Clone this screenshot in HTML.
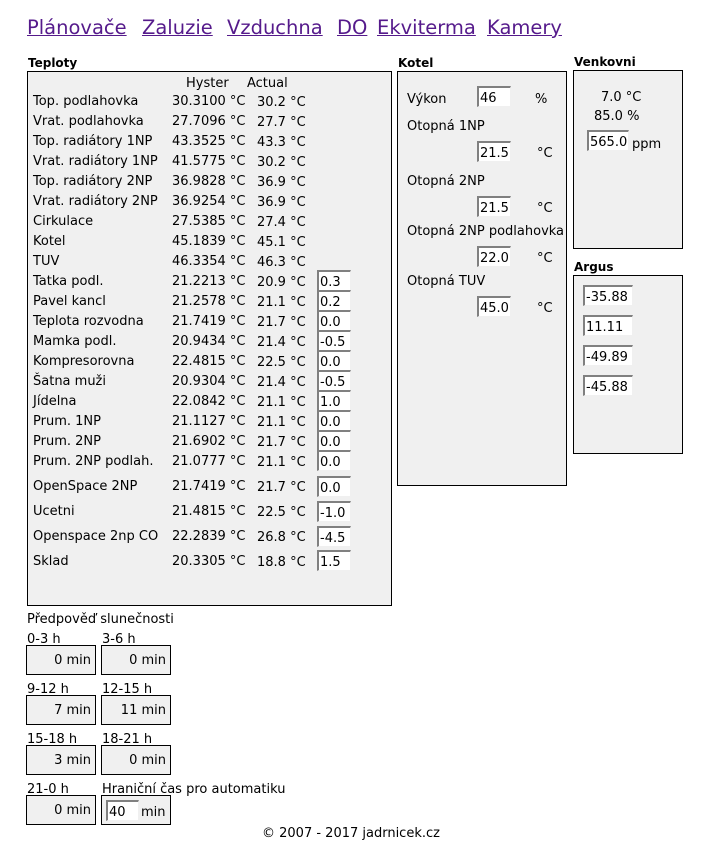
<!DOCTYPE html>
<html><head><meta charset="utf-8"><style>
*{margin:0;padding:0;box-sizing:border-box}
body{width:707px;height:861px;background:#fff;font-family:"DejaVu Sans","Liberation Sans",sans-serif;font-size:13px;color:#000;position:relative;overflow:hidden}
.a{position:absolute;white-space:nowrap;line-height:14px;margin-top:1px}
.t{position:absolute;font-weight:bold;font-size:12px;line-height:14px;margin-top:1px}
.box{position:absolute;background:#f0f0f0;border:1px solid #000}
.in{position:absolute;background:#fff;border-top:2px solid #808080;border-left:2px solid #808080;border-right:1px solid #f0f0f0;border-bottom:1px solid #f0f0f0;height:21px;padding:4px 0 0 1px;line-height:14px;font-size:13px}
.lk{position:absolute;top:16px;font-size:19.5px;color:#551a8b;text-decoration:underline;line-height:24px;white-space:nowrap}
.sb{position:absolute;width:70px;height:30px;background:#f0f0f0;border:1px solid #000;text-align:right;padding:8px 4px 0 0;font-size:13px;line-height:14px}
</style></head><body>
<span class="lk" style="left:27px">Plánovače</span>
<span class="lk" style="left:142px">Zaluzie</span>
<span class="lk" style="left:227px">Vzduchna</span>
<span class="lk" style="left:337px">DO</span>
<span class="lk" style="left:377px">Ekviterma</span>
<span class="lk" style="left:487px">Kamery</span>

<div class="t" style="left:28px;top:55px">Teploty</div>
<div class="box" style="left:27px;top:71px;width:365px;height:535px"></div>
<div class="a" style="left:186px;top:76px">Hyster</div>
<div class="a" style="left:247px;top:76px">Actual</div>

<div class="t" style="left:398px;top:55px">Kotel</div>
<div class="box" style="left:397px;top:71px;width:170px;height:415px"></div>
<div class="a" style="left:407px;top:92px">Výkon</div>
<div class="in" style="left:477px;top:86px;width:34px">46</div>
<div class="a" style="left:535px;top:92px">%</div>
<div class="a" style="left:407px;top:119px">Otopná 1NP</div>
<div class="in" style="left:477px;top:141px;width:34px">21.5</div>
<div class="a" style="left:537px;top:146px">°C</div>
<div class="a" style="left:407px;top:174px">Otopná 2NP</div>
<div class="in" style="left:477px;top:196px;width:34px">21.5</div>
<div class="a" style="left:537px;top:201px">°C</div>
<div class="a" style="left:407px;top:224px">Otopná 2NP podlahovka</div>
<div class="in" style="left:477px;top:246px;width:34px">22.0</div>
<div class="a" style="left:537px;top:251px">°C</div>
<div class="a" style="left:407px;top:274px">Otopná TUV</div>
<div class="in" style="left:477px;top:296px;width:34px">45.0</div>
<div class="a" style="left:537px;top:301px">°C</div>

<div class="t" style="left:574px;top:54px">Venkovni</div>
<div class="box" style="left:573px;top:70px;width:110px;height:179px"></div>
<div class="a" style="left:601px;top:90px">7.0 °C</div>
<div class="a" style="left:594px;top:109px">85.0 %</div>
<div class="in" style="left:587px;top:130px;width:42px">565.0</div>
<div class="a" style="left:632px;top:137px">ppm</div>

<div class="t" style="left:574px;top:259px">Argus</div>
<div class="box" style="left:573px;top:275px;width:110px;height:179px"></div>
<div class="in" style="left:583px;top:285px;width:50px">-35.88</div>
<div class="in" style="left:583px;top:315px;width:50px">11.11</div>
<div class="in" style="left:583px;top:345px;width:50px">-49.89</div>
<div class="in" style="left:583px;top:375px;width:50px">-45.88</div>

<div class="a" style="left:27px;top:612px">Předpověď slunečnosti</div>
<div class="a" style="left:27px;top:632px">0-3 h</div><div class="a" style="left:102px;top:632px">3-6 h</div>
<div class="sb" style="left:26px;top:645px">0 min</div><div class="sb" style="left:101px;top:645px">0 min</div>
<div class="a" style="left:27px;top:682px">9-12 h</div><div class="a" style="left:102px;top:682px">12-15 h</div>
<div class="sb" style="left:26px;top:695px">7 min</div><div class="sb" style="left:101px;top:695px">11 min</div>
<div class="a" style="left:27px;top:732px">15-18 h</div><div class="a" style="left:102px;top:732px">18-21 h</div>
<div class="sb" style="left:26px;top:745px">3 min</div><div class="sb" style="left:101px;top:745px">0 min</div>
<div class="a" style="left:27px;top:782px">21-0 h</div><div class="a" style="left:102px;top:782px">Hraniční čas pro automatiku</div>
<div class="sb" style="left:26px;top:795px">0 min</div><div class="sb" style="left:101px;top:795px"></div>
<div class="in" style="left:106px;top:800px;width:33px">40</div>
<div class="a" style="left:141px;top:805px">min</div>
<div class="a" style="left:262px;top:826px">© 2007 - 2017 jadrnicek.cz</div>

<div class="a" style="left:33px;top:94px">Top. podlahovka</div><div class="a" style="left:172px;top:94px">30.3100 °C</div><div class="a" style="left:257px;top:95px">30.2 °C</div>
<div class="a" style="left:33px;top:114px">Vrat. podlahovka</div><div class="a" style="left:172px;top:114px">27.7096 °C</div><div class="a" style="left:257px;top:115px">27.7 °C</div>
<div class="a" style="left:33px;top:134px">Top. radiátory 1NP</div><div class="a" style="left:172px;top:134px">43.3525 °C</div><div class="a" style="left:257px;top:135px">43.3 °C</div>
<div class="a" style="left:33px;top:154px">Vrat. radiátory 1NP</div><div class="a" style="left:172px;top:154px">41.5775 °C</div><div class="a" style="left:257px;top:155px">30.2 °C</div>
<div class="a" style="left:33px;top:174px">Top. radiátory 2NP</div><div class="a" style="left:172px;top:174px">36.9828 °C</div><div class="a" style="left:257px;top:175px">36.9 °C</div>
<div class="a" style="left:33px;top:194px">Vrat. radiátory 2NP</div><div class="a" style="left:172px;top:194px">36.9254 °C</div><div class="a" style="left:257px;top:195px">36.9 °C</div>
<div class="a" style="left:33px;top:214px">Cirkulace</div><div class="a" style="left:172px;top:214px">27.5385 °C</div><div class="a" style="left:257px;top:215px">27.4 °C</div>
<div class="a" style="left:33px;top:234px">Kotel</div><div class="a" style="left:172px;top:234px">45.1839 °C</div><div class="a" style="left:257px;top:235px">45.1 °C</div>
<div class="a" style="left:33px;top:254px">TUV</div><div class="a" style="left:172px;top:254px">46.3354 °C</div><div class="a" style="left:257px;top:255px">46.3 °C</div>

<div class="a" style="left:33px;top:274px">Tatka podl.</div><div class="a" style="left:172px;top:274px">21.2213 °C</div><div class="a" style="left:257px;top:275px">20.9 °C</div><div class="in" style="left:317px;top:270px;width:34px">0.3</div>
<div class="a" style="left:33px;top:294px">Pavel kancl</div><div class="a" style="left:172px;top:294px">21.2578 °C</div><div class="a" style="left:257px;top:295px">21.1 °C</div><div class="in" style="left:317px;top:290px;width:34px">0.2</div>
<div class="a" style="left:33px;top:314px">Teplota rozvodna</div><div class="a" style="left:172px;top:314px">21.7419 °C</div><div class="a" style="left:257px;top:315px">21.7 °C</div><div class="in" style="left:317px;top:310px;width:34px">0.0</div>
<div class="a" style="left:33px;top:334px">Mamka podl.</div><div class="a" style="left:172px;top:334px">20.9434 °C</div><div class="a" style="left:257px;top:335px">21.4 °C</div><div class="in" style="left:317px;top:330px;width:34px">-0.5</div>
<div class="a" style="left:33px;top:354px">Kompresorovna</div><div class="a" style="left:172px;top:354px">22.4815 °C</div><div class="a" style="left:257px;top:355px">22.5 °C</div><div class="in" style="left:317px;top:350px;width:34px">0.0</div>
<div class="a" style="left:33px;top:374px">Šatna muži</div><div class="a" style="left:172px;top:374px">20.9304 °C</div><div class="a" style="left:257px;top:375px">21.4 °C</div><div class="in" style="left:317px;top:370px;width:34px">-0.5</div>
<div class="a" style="left:33px;top:394px">Jídelna</div><div class="a" style="left:172px;top:394px">22.0842 °C</div><div class="a" style="left:257px;top:395px">21.1 °C</div><div class="in" style="left:317px;top:390px;width:34px">1.0</div>
<div class="a" style="left:33px;top:414px">Prum. 1NP</div><div class="a" style="left:172px;top:414px">21.1127 °C</div><div class="a" style="left:257px;top:415px">21.1 °C</div><div class="in" style="left:317px;top:410px;width:34px">0.0</div>
<div class="a" style="left:33px;top:434px">Prum. 2NP</div><div class="a" style="left:172px;top:434px">21.6902 °C</div><div class="a" style="left:257px;top:435px">21.7 °C</div><div class="in" style="left:317px;top:430px;width:34px">0.0</div>
<div class="a" style="left:33px;top:454px">Prum. 2NP podlah.</div><div class="a" style="left:172px;top:454px">21.0777 °C</div><div class="a" style="left:257px;top:455px">21.1 °C</div><div class="in" style="left:317px;top:450px;width:34px">0.0</div>
<div class="a" style="left:33px;top:479px">OpenSpace 2NP</div><div class="a" style="left:172px;top:479px">21.7419 °C</div><div class="a" style="left:257px;top:480px">21.7 °C</div><div class="in" style="left:317px;top:476px;width:34px">0.0</div>
<div class="a" style="left:33px;top:504px">Ucetni</div><div class="a" style="left:172px;top:504px">21.4815 °C</div><div class="a" style="left:257px;top:505px">22.5 °C</div><div class="in" style="left:317px;top:501px;width:34px">-1.0</div>
<div class="a" style="left:33px;top:529px">Openspace 2np CO</div><div class="a" style="left:172px;top:529px">22.2839 °C</div><div class="a" style="left:257px;top:530px">26.8 °C</div><div class="in" style="left:317px;top:526px;width:34px">-4.5</div>
<div class="a" style="left:33px;top:554px">Sklad</div><div class="a" style="left:172px;top:554px">20.3305 °C</div><div class="a" style="left:257px;top:555px">18.8 °C</div><div class="in" style="left:317px;top:550px;width:34px">1.5</div>
</body></html>
